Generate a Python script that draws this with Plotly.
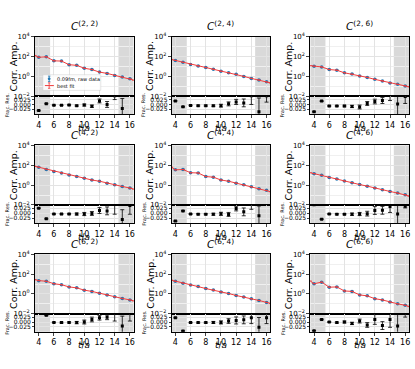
import plotly.graph_objects as go

W, H = 415, 369

# time slices and fit curve sample points
t = list(range(4, 17))
t_fit = [3.5] + t + [16.5]
x_ticks = [4, 6, 8, 10, 12, 14, 16]

labels = ["(2, 2)", "(2, 4)", "(2, 6)", "(4, 2)", "(4, 4)", "(4, 6)", "(6, 2)", "(6, 4)", "(6, 6)"]

# correlator amplitudes (raw data)
corr_22 = [85, 94, 37, 35, 15, 13, 6.6, 4.9, 2.7, 2.0, 1.26, 0.85, 0.59]
corr_24 = [41, 26, 16, 11, 7.8, 5.3, 3.3, 2.3, 1.6, 1.0, 0.63, 0.44, 0.28]
corr_26 = [10.5, 9, 4.9, 4.2, 2.3, 1.7, 1.07, 0.79, 0.5, 0.35, 0.22, 0.16, 0.11]
corr_42 = [65, 38, 24, 17, 10.8, 7.5, 5.1, 3.3, 2.5, 1.6, 1.07, 0.74, 0.51]
corr_44 = [35, 38, 18, 17, 7.4, 6.4, 3.3, 2.5, 1.6, 1.07, 0.69, 0.44, 0.3]
corr_46 = [14.5, 10, 5.9, 4.1, 2.6, 1.8, 1.15, 0.8, 0.51, 0.35, 0.23, 0.16, 0.11]
corr_62 = [22, 19, 10.7, 8.5, 5.1, 4.1, 2.4, 1.8, 1.15, 0.8, 0.51, 0.35, 0.25]
corr_64 = [19, 12.3, 7.9, 5.5, 3.5, 2.5, 1.6, 1.1, 0.7, 0.49, 0.32, 0.22, 0.14]
corr_66 = [10.7, 15.5, 4.8, 5.1, 2.0, 1.8, 0.8, 0.64, 0.33, 0.25, 0.15, 0.1, 0.072]

# best fit curve (at t_fit)
fit_22 = [125, 85, 94, 37, 35, 15, 13, 6.6, 4.9, 2.7, 2.0, 1.26, 0.85, 0.59, 0.42]
fit_24 = [50, 41, 26, 16, 11, 7.8, 5.3, 3.3, 2.3, 1.6, 1.0, 0.63, 0.44, 0.28, 0.22]
fit_26 = [12, 10.5, 9, 4.9, 4.2, 2.3, 1.7, 1.07, 0.79, 0.5, 0.35, 0.22, 0.16, 0.11, 0.09]
fit_42 = [80, 65, 38, 24, 17, 10.8, 7.5, 5.1, 3.3, 2.5, 1.6, 1.07, 0.74, 0.51, 0.4]
fit_44 = [64, 35, 38, 18, 17, 7.4, 6.4, 3.3, 2.5, 1.6, 1.07, 0.69, 0.44, 0.3, 0.22]
fit_46 = [18, 14.5, 10, 5.9, 4.1, 2.6, 1.8, 1.15, 0.8, 0.51, 0.35, 0.23, 0.16, 0.11, 0.08]
fit_62 = [28, 22, 19, 10.7, 8.5, 5.1, 4.1, 2.4, 1.8, 1.15, 0.8, 0.51, 0.35, 0.25, 0.2]
fit_64 = [24, 19, 12.3, 7.9, 5.5, 3.5, 2.5, 1.6, 1.1, 0.7, 0.49, 0.32, 0.22, 0.14, 0.11]
fit_66 = [20, 10.7, 15.5, 4.8, 5.1, 2.0, 1.8, 0.8, 0.64, 0.33, 0.25, 0.15, 0.1, 0.072, 0.054]

# fractional residuals and their errors
res_22 = [-0.031, 0.004, -0.004, -0.004, -0.003, -0.006, -0.003, -0.009, 0.018, 0.0, 0.045, -0.02, 0.08]
err_22 = [0.002, 0.002, 0.002, 0.002, 0.003, 0.003, 0.005, 0.006, 0.01, 0.015, 0.02, 0.05, 0.02]
res_24 = [0.018, -0.012, -0.005, -0.006, -0.006, -0.007, -0.006, 0.003, 0.013, 0.008, 0.045, -0.037, 0.045]
err_24 = [0.002, 0.002, 0.002, 0.003, 0.003, 0.004, 0.007, 0.01, 0.013, 0.02, 0.045, 0.07, 0.033]
res_26 = [-0.037, 0.017, -0.008, -0.008, -0.008, -0.01, -0.013, 0.005, 0.015, 0.02, 0.05, 0.002, 0.04]
err_26 = [0.002, 0.002, 0.003, 0.003, 0.004, 0.006, 0.01, 0.01, 0.012, 0.015, 0.03, 0.07, 0.035]
res_42 = [0.026, -0.028, -0.004, -0.004, -0.004, -0.004, -0.004, -0.001, 0.014, 0.012, 0.045, -0.032, 0.04]
err_42 = [0.002, 0.002, 0.002, 0.003, 0.003, 0.005, 0.008, 0.01, 0.015, 0.02, 0.05, 0.05, 0.045]
res_44 = [-0.04, 0.012, -0.004, -0.005, -0.005, -0.005, -0.003, -0.006, 0.024, 0.007, 0.05, -0.013, 0.058]
err_44 = [0.002, 0.002, 0.002, 0.003, 0.003, 0.005, 0.008, 0.01, 0.012, 0.02, 0.03, 0.05, 0.015]
res_46 = [0.043, -0.03, -0.004, -0.005, -0.005, -0.005, -0.004, -0.002, 0.014, 0.015, 0.034, -0.004, 0.035]
err_46 = [0.002, 0.002, 0.002, 0.003, 0.003, 0.006, 0.008, 0.012, 0.02, 0.02, 0.03, 0.06, 0.008]
res_62 = [0.06, 0.034, -0.002, -0.003, -0.002, -0.003, 0.0, 0.013, 0.022, 0.024, 0.045, -0.02, 0.045]
err_62 = [0.002, 0.002, 0.002, 0.003, 0.003, 0.006, 0.01, 0.012, 0.012, 0.012, 0.04, 0.05, 0.04]
res_64 = [0.022, -0.046, -0.003, -0.003, -0.003, -0.002, -0.002, 0.005, 0.008, 0.011, 0.022, -0.027, 0.022]
err_64 = [0.002, 0.002, 0.002, 0.003, 0.003, 0.005, 0.008, 0.012, 0.018, 0.02, 0.03, 0.05, 0.03]
res_66 = [-0.045, 0.013, 0.0, -0.003, 0.0, -0.007, 0.005, -0.015, 0.013, -0.018, 0.013, -0.02, 0.045]
err_66 = [0.002, 0.002, 0.002, 0.003, 0.005, 0.006, 0.01, 0.012, 0.025, 0.02, 0.04, 0.06, 0.02]

corrs = [corr_22, corr_24, corr_26, corr_42, corr_44, corr_46, corr_62, corr_64, corr_66]
fits = [fit_22, fit_24, fit_26, fit_42, fit_44, fit_46, fit_62, fit_64, fit_66]
resids = [res_22, res_24, res_26, res_42, res_44, res_46, res_62, res_64, res_66]
errs = [err_22, err_24, err_26, err_42, err_44, err_46, err_62, err_64, err_66]

# panel geometry in pixels
col_left = [35, 172, 311]
col_w = 99
row_top = [32.5, 144, 255.5]
main_h = 61
res_h = 18.5

FONT = "DejaVu Sans"
GRID = "#e3e3e3"
SHADE = "#d9d9d9"
BLUE = "#1f77b4"
RED = "#f03c3c"


def px_x(v):
    return v / W


def px_y(v):
    return 1 - v / H


fig = go.Figure()
layout = {}
shapes = []
annotations = []

for i in range(9):
    r, c = divmod(i, 3)
    m, k = 2 * i + 1, 2 * i + 2
    xm, ym = ("x", "y") if m == 1 else (f"x{m}", f"y{m}")
    xr, yr = f"x{k}", f"y{k}"
    x0 = col_left[c]
    top = row_top[r]

    fig.add_trace(go.Scatter(
        x=t, y=corrs[i], mode="markers", xaxis=xm, yaxis=ym,
        marker=dict(color=BLUE, size=3.5),
        error_y=dict(type="percent", value=6, color=BLUE, thickness=0.8, width=1.5),
        showlegend=False,
    ))
    fig.add_trace(go.Scatter(
        x=t_fit, y=fits[i], mode="lines", xaxis=xm, yaxis=ym,
        line=dict(color=RED, width=1),
        error_y=dict(type="percent", value=3, color=RED, thickness=0.6, width=1.5),
        showlegend=False,
    ))
    fig.add_trace(go.Scatter(
        x=t, y=resids[i], mode="markers", xaxis=xr, yaxis=yr,
        marker=dict(color="black", size=3, symbol="square"),
        error_y=dict(type="data", array=errs[i], color="black", thickness=0.8, width=2),
        showlegend=False,
    ))

    xdom = [px_x(x0), px_x(x0 + col_w)]
    common_x = dict(domain=xdom, range=[3.5, 16.5], tickvals=x_ticks,
                    showgrid=True, gridcolor=GRID, gridwidth=0.6,
                    showline=True, mirror=True, linecolor="black", linewidth=0.8,
                    zeroline=False)
    layout["xaxis" if m == 1 else f"xaxis{m}"] = dict(
        common_x, anchor=ym, showticklabels=False, ticks="")
    layout[f"xaxis{k}"] = dict(
        common_x, anchor=yr, ticks="outside", ticklen=3, tickwidth=0.8,
        tickfont=dict(size=8, family=FONT, color="black"))
    layout["yaxis" if m == 1 else f"yaxis{m}"] = dict(
        domain=[px_y(top + main_h), px_y(top)], anchor=xm, type="log", range=[-2, 4],
        tickvals=[1e-2, 1, 1e2, 1e4],
        ticktext=["10<sup>−2</sup>", "10<sup>0</sup>", "10<sup>2</sup>", "10<sup>4</sup>"],
        tickfont=dict(size=7, family=FONT, color="black"),
        ticks="outside", ticklen=3, tickwidth=0.8,
        showgrid=True, gridcolor=GRID, gridwidth=0.6,
        minor=dict(tickvals=[0.1, 10, 1000], showgrid=True, gridcolor="#f0f0f0", ticks=""),
        showline=True, mirror=True, linecolor="black", linewidth=0.8, zeroline=False)
    layout[f"yaxis{k}"] = dict(
        domain=[px_y(top + main_h + res_h), px_y(top + main_h)], anchor=xr,
        range=[-0.05, 0.042], tickvals=[-0.025, 0, 0.025],
        ticktext=["−0.025", "0.000", "0.025"],
        tickfont=dict(size=6, family=FONT, color="black"),
        ticks="outside", ticklen=2, tickwidth=0.8,
        showgrid=True, gridcolor=GRID, gridwidth=0.6,
        showline=True, mirror=True, linecolor="black", linewidth=0.8, zeroline=False)

    # excluded fit regions
    for xa, ya in ((xm, ym), (xr, yr)):
        for a, b in ((3.5, 5.5), (14.5, 16.5)):
            shapes.append(dict(type="rect", xref=xa, yref=f"{ya} domain",
                               x0=a, x1=b, y0=0, y1=1, fillcolor=SHADE,
                               line=dict(width=0), layer="below"))

    cx = px_x(x0 + col_w / 2)
    annotations.append(dict(
        text=f"<i>C</i><sup>{labels[i]}</sup>", x=cx, y=px_y(top - 2.5),
        xref="paper", yref="paper", xanchor="center", yanchor="bottom",
        showarrow=False, font=dict(size=10.5, family=FONT, color="black")))
    annotations.append(dict(
        text="Corr. Amp.", x=px_x(x0 - 22), y=px_y(top + main_h / 2),
        xref="paper", yref="paper", xanchor="center", yanchor="middle",
        textangle=-90, showarrow=False,
        font=dict(size=9.5, family=FONT, color="black")))
    annotations.append(dict(
        text="Frac. Res.", x=px_x(x0 - 28), y=px_y(top + main_h + res_h / 2),
        xref="paper", yref="paper", xanchor="center", yanchor="middle",
        textangle=-90, showarrow=False,
        font=dict(size=5, family=FONT, color="black")))
    annotations.append(dict(
        text="<i>t</i>/<i>a</i>", x=cx, y=px_y(top + main_h + res_h + 14),
        xref="paper", yref="paper", xanchor="center", yanchor="middle",
        showarrow=False, font=dict(size=9, family=FONT, color="black")))

# legend box of the first panel (drawn by hand, matplotlib-style compact)
lg_l, lg_t, lg_r, lg_b = 43, 71.5, 101, 87.5
shapes.append(dict(type="rect", xref="paper", yref="paper",
                   x0=px_x(lg_l), x1=px_x(lg_r), y0=px_y(lg_b), y1=px_y(lg_t),
                   fillcolor="rgba(255,255,255,0.85)", line=dict(color="#cccccc", width=0.5),
                   layer="above"))
sym_x = 49.3
for yc, col, with_line in ((75.7, BLUE, False), (82.6, RED, True)):
    if with_line:
        shapes.append(dict(type="line", xref="paper", yref="paper",
                           x0=px_x(45), x1=px_x(54), y0=px_y(yc), y1=px_y(yc),
                           line=dict(color=col, width=1), layer="above"))
    shapes.append(dict(type="line", xref="paper", yref="paper",
                       x0=px_x(sym_x), x1=px_x(sym_x), y0=px_y(yc - 2.8), y1=px_y(yc + 2.8),
                       line=dict(color=col, width=0.8), layer="above"))
    for dy in (-2.8, 2.8):
        shapes.append(dict(type="line", xref="paper", yref="paper",
                           x0=px_x(sym_x - 1.2), x1=px_x(sym_x + 1.2),
                           y0=px_y(yc + dy), y1=px_y(yc + dy),
                           line=dict(color=col, width=0.8), layer="above"))
    if not with_line:
        shapes.append(dict(type="circle", xref="paper", yref="paper",
                           x0=px_x(sym_x - 1.4), x1=px_x(sym_x + 1.4),
                           y0=px_y(yc + 1.4), y1=px_y(yc - 1.4),
                           fillcolor=col, line=dict(width=0), layer="above"))
for yc, txt in ((75.7, "0.09fm, raw data"), (82.6, "best fit")):
    annotations.append(dict(
        text=txt, x=px_x(55), y=px_y(yc), xref="paper", yref="paper",
        xanchor="left", yanchor="middle", showarrow=False,
        font=dict(size=5, family=FONT, color="black")))

fig.update_layout(
    width=W, height=H,
    margin=dict(l=0, r=0, t=0, b=0),
    paper_bgcolor="white", plot_bgcolor="white",
    shapes=shapes, annotations=annotations,
    showlegend=False,
    **layout,
)

fig.write_html("out.html", config={"displayModeBar": False},
               post_script="document.body.style.margin='0';")
